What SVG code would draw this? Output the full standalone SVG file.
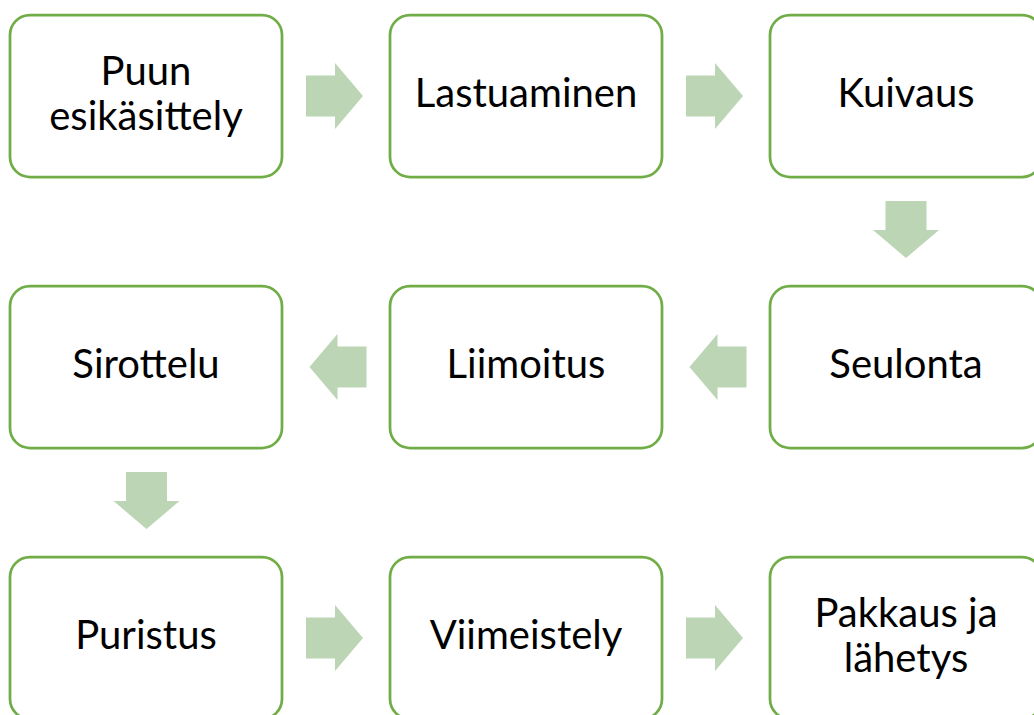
<svg xmlns="http://www.w3.org/2000/svg" width="1034" height="715" viewBox="0 0 1034 715">
  <style>
    .box { fill: #ffffff; stroke: #70ad47; stroke-width: 2.75; }
    .arrow { fill: #bcd5b4; }
    .label { font-family: Lato, "Liberation Sans", sans-serif; font-size: 40px; fill: #000000; text-anchor: middle; }
  </style>
  <defs>
    <!-- Block arrows drawn around their own centre -->
    <path id="arrowRight" d="M-28.5,-20.5 H0.5 V-33 L28.5,0 L0.5,33 V20.5 H-28.5 Z"/>
    <path id="arrowLeft" d="M28.5,-20.5 H-0.5 V-33 L-28.5,0 L-0.5,33 V20.5 H28.5 Z"/>
    <path id="arrowDown" d="M-20.5,-28.5 H20.5 V0.5 H33 L0,28.5 L-33,0.5 H-20.5 Z"/>
  </defs>
  <rect width="1034" height="715" fill="#ffffff"/>

  <g id="connectors" class="arrow">
    <use href="#arrowRight" x="334.5" y="96"/>
    <use href="#arrowRight" x="714.5" y="96"/>
    <use href="#arrowDown" x="906" y="229.5"/>
    <use href="#arrowLeft" x="718" y="367"/>
    <use href="#arrowLeft" x="338" y="367"/>
    <use href="#arrowDown" x="146.5" y="500.5"/>
    <use href="#arrowRight" x="334.5" y="638"/>
    <use href="#arrowRight" x="714.5" y="638"/>
  </g>

  <g id="node-puun-esikasittely">
    <rect class="box" x="10" y="15" width="272" height="162" rx="20"/>
    <text class="label" x="146" y="85">Puun</text>
    <text class="label" x="146" y="130">esikäsittely</text>
  </g>
  <g id="node-lastuaminen">
    <rect class="box" x="390" y="15" width="272" height="162" rx="20"/>
    <text class="label" x="526" y="107">Lastuaminen</text>
  </g>
  <g id="node-kuivaus">
    <rect class="box" x="770" y="15" width="272" height="162" rx="20"/>
    <text class="label" x="906" y="107">Kuivaus</text>
  </g>
  <g id="node-sirottelu">
    <rect class="box" x="10" y="286" width="272" height="162" rx="20"/>
    <text class="label" x="146" y="378">Sirottelu</text>
  </g>
  <g id="node-liimoitus">
    <rect class="box" x="390" y="286" width="272" height="162" rx="20"/>
    <text class="label" x="526" y="378">Liimoitus</text>
  </g>
  <g id="node-seulonta">
    <rect class="box" x="770" y="286" width="272" height="162" rx="20"/>
    <text class="label" x="906" y="378">Seulonta</text>
  </g>
  <g id="node-puristus">
    <rect class="box" x="10" y="557" width="272" height="162" rx="20"/>
    <text class="label" x="146" y="649">Puristus</text>
  </g>
  <g id="node-viimeistely">
    <rect class="box" x="390" y="557" width="272" height="162" rx="20"/>
    <text class="label" x="526" y="649">Viimeistely</text>
  </g>
  <g id="node-pakkaus-ja-lahetys">
    <rect class="box" x="770" y="557" width="272" height="162" rx="20"/>
    <text class="label" x="906" y="627">Pakkaus ja</text>
    <text class="label" x="906" y="672">lähetys</text>
  </g>
</svg>
